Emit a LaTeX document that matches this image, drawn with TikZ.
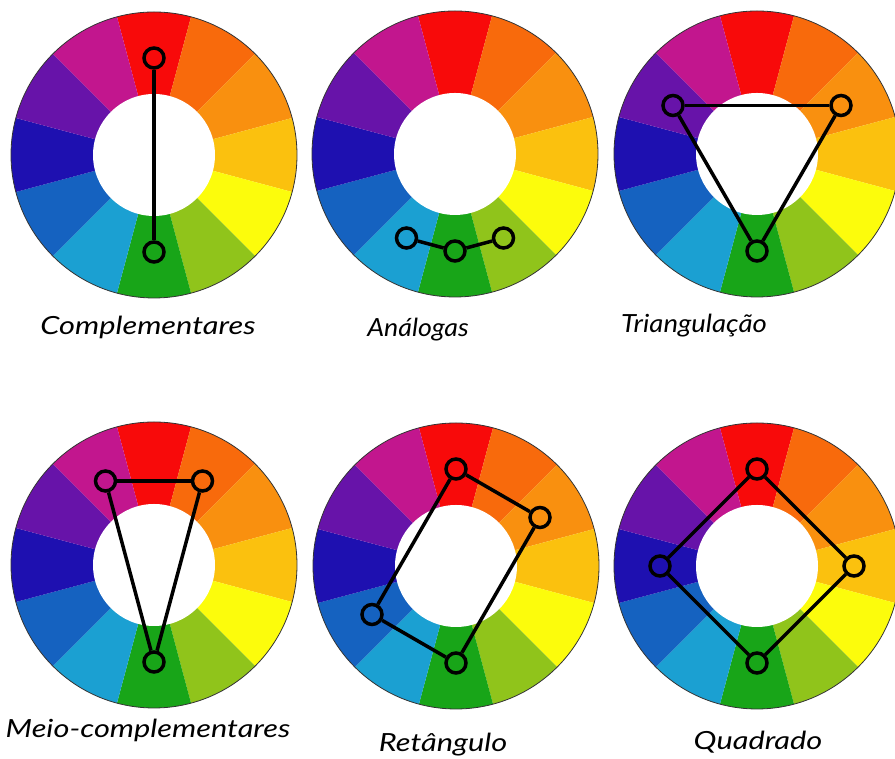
\documentclass[tikz,border=0pt]{standalone}
\usepackage{fontspec}
\usepackage{graphicx}
\newfontfamily\handfont{Lato}
\usetikzlibrary{calc}
\definecolor{cR}{HTML}{F80A0A}
\definecolor{cRO}{HTML}{F86A0C}
\definecolor{cO}{HTML}{F9900F}
\definecolor{cYO}{HTML}{FBC10E}
\definecolor{cY}{HTML}{FCFC0C}
\definecolor{cYG}{HTML}{90C41B}
\definecolor{cG}{HTML}{18A518}
\definecolor{cC}{HTML}{1BA0D2}
\definecolor{cB}{HTML}{1562C0}
\definecolor{cDB}{HTML}{1E10B0}
\definecolor{cV}{HTML}{6713A9}
\definecolor{cM}{HTML}{C2168E}
\tikzset{
  mk/.style={circle, draw=black, line width=3.5pt, minimum size=20pt, inner sep=0pt},
  link/.style={draw=black, line width=3.5pt},
  lbl/.style={font=\handfont\itshape\fontsize{25}{30}\selectfont, anchor=base, inner sep=0pt},
  rim/.style={draw=black!80, line width=0.8pt}
}
\newcommand{\hw}[2][1.23]{\scalebox{#1}[1]{#2}}
\newcommand{\mywheel}[1]{%
  \begin{scope}[shift={#1}]
    \foreach \c [count=\i from 0] in {cR,cRO,cO,cYO,cY,cYG,cG,cC,cB,cDB,cV,cM} {
      \pgfmathsetmacro\a{105-30*\i}
      \pgfmathsetmacro\b{\a-30}
      \fill[\c] (\a:60) -- (\a:143) arc[start angle=\a, end angle=\b, radius=143]
        -- (\b:60) arc[start angle=\b, end angle=\a, radius=60] -- cycle;
    }
    \draw[rim] (0,0) circle (143);
    \fill[white] (0,0) circle (61);
  \end{scope}}
\begin{document}
\begin{tikzpicture}[x=1pt,y=1pt]
\useasboundingbox (0,0) rectangle (895,759);
\fill[white] (0,0) rectangle (895,759);
% wheels
\mywheel{(154,604)}
\mywheel{(455,605)}
\mywheel{(757,605)}
\mywheel{(154,194)}
\mywheel{(456,193)}
\mywheel{(757,193)}
% Complementares
\node[mk] (c1) at ($(154,604)+(90:97)$) {};
\node[mk] (c2) at ($(154,604)+(-90:97)$) {};
\draw[link] (c1) -- (c2);
% Analogas
\node[mk] (a1) at ($(455,605)+(-120:97)$) {};
\node[mk] (a2) at ($(455,605)+(-90:97)$) {};
\node[mk] (a3) at ($(455,605)+(-60:97)$) {};
\draw[link] (a1) -- (a2);
\draw[link] (a2) -- (a3);
% Triangulacao
\node[mk] (t1) at ($(757,605)+(150:97)$) {};
\node[mk] (t2) at ($(757,605)+(30:97)$) {};
\node[mk] (t3) at ($(757,605)+(-90:97)$) {};
\draw[link] (t1) -- (t2);
\draw[link] (t2) -- (t3);
\draw[link] (t3) -- (t1);
% Meio-complementares
\node[mk] (m1) at ($(154,194)+(120:97)$) {};
\node[mk] (m2) at ($(154,194)+(60:97)$) {};
\node[mk] (m3) at ($(154,194)+(-90:97)$) {};
\draw[link] (m1) -- (m2);
\draw[link] (m2) -- (m3);
\draw[link] (m3) -- (m1);
% Retangulo
\node[mk] (r1) at ($(456,193)+(90:97)$) {};
\node[mk] (r2) at ($(456,193)+(30:97)$) {};
\node[mk] (r3) at ($(456,193)+(-90:97)$) {};
\node[mk] (r4) at ($(456,193)+(-150:97)$) {};
\draw[link] (r1) -- (r2);
\draw[link] (r2) -- (r3);
\draw[link] (r3) -- (r4);
\draw[link] (r4) -- (r1);
% Quadrado
\node[mk] (q1) at ($(757,193)+(90:97)$) {};
\node[mk] (q2) at ($(757,193)+(0:97)$) {};
\node[mk] (q3) at ($(757,193)+(-90:97)$) {};
\node[mk] (q4) at ($(757,193)+(180:97)$) {};
\draw[link] (q1) -- (q2);
\draw[link] (q2) -- (q3);
\draw[link] (q3) -- (q4);
\draw[link] (q4) -- (q1);
% labels
\node[lbl] (l1) at (148,424) {\hw{Complementares}};
\node[lbl] (l2) at (418,422) {\hw[1.07]{Análogas}};
\node[lbl] (l3) at (694,426) {\hw[1.10]{Triangulação}};
\node[lbl] (l4) at (148,21) {\hw{Meio-complementares}};
\node[lbl] (l5) at (443,7) {\hw{Retângulo}};
\node[lbl] (l6) at (758,9) {\hw{Quadrado}};
\end{tikzpicture}
\end{document}
